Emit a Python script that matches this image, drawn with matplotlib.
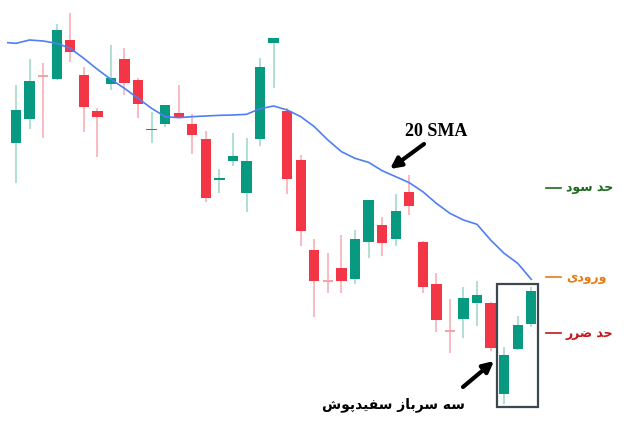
import numpy as np
import matplotlib
matplotlib.use("Agg")
import matplotlib.pyplot as plt
from matplotlib.patches import Rectangle
from matplotlib.lines import Line2D

# candle data (price units)
opens = [87.0, 94.4, 107.1, 106.2, 118.1, 107.5, 96.7, 104.7, 112.4, 105.9,
         90.9, 92.8, 96.2, 92.7, 88.2, 76.1, 81.7, 72.2, 88.3, 117.0,
         96.8, 82.0, 54.9, 45.6, 49.7, 46.4, 57.5, 62.5, 58.2, 72.5,
         57.5, 44.8, 30.6, 34.2, 39.0, 39.1, 11.9, 25.2, 32.7]
closes = [97.0, 105.8, 107.0, 121.1, 114.3, 97.9, 95.0, 106.7, 105.1, 98.9,
          91.4, 98.4, 94.7, 89.5, 70.5, 76.5, 83.2, 81.6, 110.0, 118.5,
          76.4, 60.6, 45.7, 45.5, 45.8, 58.4, 69.9, 57.2, 66.6, 68.3,
          44.0, 34.0, 30.5, 40.7, 41.4, 25.6, 23.6, 32.6, 42.8]
highs = [104.5, 112.2, 111.0, 122.8, 126.0, 109.8, 97.7, 116.5, 115.7, 106.5,
         96.5, 98.4, 104.6, 95.7, 90.7, 79.2, 90.0, 88.5, 112.5, 118.5,
         97.5, 83.5, 58.3, 54.0, 59.4, 61.0, 69.9, 65.0, 71.7, 77.5,
         57.8, 48.2, 40.3, 43.8, 45.6, 39.5, 26.0, 35.3, 43.8]
lows = [75.2, 91.2, 88.5, 106.0, 111.5, 90.3, 82.9, 103.0, 101.5, 94.7,
        87.0, 91.8, 94.5, 83.7, 69.3, 72.0, 80.3, 66.4, 86.3, 103.5,
        71.7, 56.3, 35.0, 42.2, 42.0, 44.8, 52.5, 53.3, 56.2, 65.6,
        42.2, 30.3, 24.0, 28.5, 32.3, 24.8, 8.7, 25.0, 31.8]

sma_x = [-0.6] + list(range(39))
sma = [117.2, 117.0, 118.0, 117.7, 117.0, 115.5, 112.5, 109.2, 106.2, 103.5, 100.5,
       97.5, 95.0, 94.7, 95.0, 95.2, 95.4, 95.5, 95.7, 97.4, 98.2,
       97.0, 95.0, 92.0, 88.0, 84.5, 82.5, 81.3, 78.8, 77.0, 75.2,
       72.5, 69.0, 66.0, 64.0, 62.7, 58.0, 54.0, 51.0, 46.2]

GREEN = "#089981"
RED = "#f23645"
GREEN_WICK = "#a9dccf"
RED_WICK = "#f9b5bb"

# simple persian shaping (presentation forms), matplotlib has no bidi support
FORMS = {
    "ا": ("\uFE8D", "\uFE8E", None, None),
    "ب": ("\uFE8F", "\uFE90", "\uFE91", "\uFE92"),
    "پ": ("\uFB56", "\uFB57", "\uFB58", "\uFB59"),
    "ح": ("\uFEA1", "\uFEA2", "\uFEA3", "\uFEA4"),
    "د": ("\uFEA9", "\uFEAA", None, None),
    "ر": ("\uFEAD", "\uFEAE", None, None),
    "ز": ("\uFEAF", "\uFEB0", None, None),
    "س": ("\uFEB1", "\uFEB2", "\uFEB3", "\uFEB4"),
    "ش": ("\uFEB5", "\uFEB6", "\uFEB7", "\uFEB8"),
    "ض": ("\uFEBD", "\uFEBE", "\uFEBF", "\uFEC0"),
    "ف": ("\uFED1", "\uFED2", "\uFED3", "\uFED4"),
    "ه": ("\uFEE9", "\uFEEA", "\uFEEB", "\uFEEC"),
    "و": ("\uFEED", "\uFEEE", None, None),
    "ی": ("\uFBFC", "\uFBFD", "\uFBFE", "\uFBFF"),
}


def shape(text):
    out = []
    for k, ch in enumerate(text):
        if ch not in FORMS:
            out.append(ch)
            continue
        iso, fin, ini, med = FORMS[ch]
        prev = text[k - 1] if k > 0 else " "
        nxt = text[k + 1] if k < len(text) - 1 else " "
        join_prev = prev in FORMS and FORMS[prev][2] is not None
        join_next = nxt in FORMS and ini is not None
        if join_prev and join_next:
            out.append(med)
        elif join_prev:
            out.append(fin)
        elif join_next:
            out.append(ini)
        else:
            out.append(iso)
    return "".join(out)[::-1]


fig = plt.figure(figsize=(6.24, 4.26), dpi=100)
ax = fig.add_axes([0, 0, 1, 1])
ax.set_xlim(-16 / 13.56, 608 / 13.56)
ax.set_ylim(2.2, 130)
ax.axis("off")

x = np.arange(len(opens))
o = np.array(opens)
c = np.array(closes)
up = c >= o
cols = np.where(up, GREEN, RED)
wcols = np.where(up, GREEN_WICK, RED_WICK)
# red dojis show up as a thin pale line in the original
doji = np.abs(c - o) < 0.3
cols = np.where(doji & ~up, "#f7a3aa", cols)

ax.vlines(x, lows, highs, colors=wcols, lw=1.3, zorder=1)
ax.bar(x, np.maximum(np.abs(c - o), 0.4), bottom=np.minimum(o, c), width=0.76,
       color=cols, zorder=2)

ax.plot(sma_x, sma, color="#4f7ef5", lw=1.2, zorder=3)

# box round the last three candles
box = Rectangle((35.5, 7.8), 3.0, 36.9, fill=False, ec="#3a4850", lw=1.6, zorder=4)
ax.add_patch(box)

# annotations (axes fraction from pixel positions)
def fx(px):
    return px / 624


def fy(py):
    return 1 - py / 426


ax.text(fx(436), fy(131), "20 SMA", transform=ax.transAxes, ha="center", va="center",
        fontsize=13, fontweight="bold", family="Liberation Serif", color="black")
ax.annotate("", xy=(fx(390), fy(169)), xytext=(fx(424), fy(144)),
            xycoords="axes fraction", textcoords="axes fraction",
            arrowprops=dict(arrowstyle="-|>", lw=3, color="black", mutation_scale=16,
                            shrinkA=0, shrinkB=0))
ax.annotate("", xy=(fx(494), fy(361)), xytext=(fx(463), fy(387)),
            xycoords="axes fraction", textcoords="axes fraction",
            arrowprops=dict(arrowstyle="-|>", lw=3, color="black", mutation_scale=16,
                            shrinkA=0, shrinkB=0))

ax.text(fx(393), fy(405), shape("سه سرباز سفیدپوش"), transform=ax.transAxes,
        ha="center", va="center", fontsize=10, fontweight="bold", family="DejaVu Sans")

labels = ["حد سود", "ورودی", "حد ضرر"]
label_y = [188, 277, 333]
label_cols = ["#1c6b1f", "#ea7a12", "#c4161c"]
for lab, py, col in zip(labels, label_y, label_cols):
    ax.add_line(Line2D([fx(546), fx(561)], [fy(py), fy(py)], transform=ax.transAxes,
                       color=col, lw=1.2))
    ax.text(fx(566), fy(py), shape(lab), transform=ax.transAxes, ha="left", va="center",
            fontsize=9, fontweight="bold", family="DejaVu Sans", color=col)

fig.savefig("out.png", dpi=100)
